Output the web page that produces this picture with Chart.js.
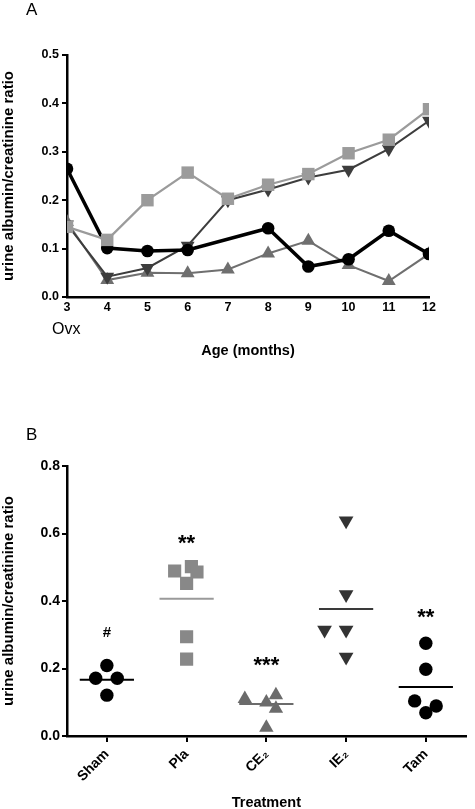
<!DOCTYPE html>
<html>
<head>
<meta charset="utf-8">
<script src="https://cdn.jsdelivr.net/npm/chart.js@4.4.0/dist/chart.umd.min.js"></script>
<style>
  html, body { margin: 0; padding: 0; background: #fff; overflow: hidden; }
  body { width: 475px; height: 809px; position: relative; font-family: "Liberation Sans", Arial, sans-serif; }
  canvas { position: absolute; left: 0; }
  #chartA { top: 0; }
  #chartB { top: 400px; }
  .label { position: absolute; line-height: 1; color: #000; }
</style>
</head>
<body>
<canvas id="chartA" width="475" height="400"></canvas>
<canvas id="chartB" width="475" height="420"></canvas>
<div class="label" style="left:26px;top:1px;font-size:17px">A</div>
<div class="label" style="left:26px;top:426px;font-size:17px">B</div>
<div class="label" style="left:52px;top:321px;font-size:16px">Ovx</div>
<script>
// panel A: ratio over age
const ages = [3, 4, 5, 6, 7, 8, 9, 10, 11, 12];
const shamByAge = [0.265, 0.101, 0.095, 0.097, null, 0.142, 0.063, 0.078, 0.137, 0.089];
const plaByAge = [0.145, 0.118, 0.2, 0.257, 0.203, 0.232, 0.254, 0.297, 0.325, 0.388];
const ie2ByAge = [0.15, 0.042, 0.06, 0.106, 0.2, 0.222, 0.247, 0.263, 0.306, 0.364];
const ce2ByAge = [0.155, 0.035, 0.05, 0.049, 0.057, 0.09, 0.116, 0.066, 0.033, 0.089];

// panel B: ratio per treatment
const treatments = ["Sham", "Pla", "CE\u2082", "IE\u2082", "Tam"];
const shamValues = [0.209, 0.171, 0.171, 0.121];
const shamJitter = [0, -0.14, 0.13, 0];
const plaValues = [0.489, 0.502, 0.486, 0.452, 0.294, 0.228];
const plaJitter = [-0.15, 0.06, 0.13, 0, 0, 0];
const ce2Values = [0.11, 0.121, 0.1, 0.081, 0.025];
const ce2Jitter = [-0.27, 0.12, 0, 0.12, 0];
const ie2Values = [0.638, 0.419, 0.314, 0.314, 0.234];
const ie2Jitter = [0, 0, -0.27, 0, 0];
const tamValues = [0.275, 0.198, 0.104, 0.089, 0.069];
const tamJitter = [0, 0, -0.14, 0.13, 0];
const groupMeans = [0.167, 0.407, 0.095, 0.376, 0.145];
const significance = ["#", "**", "***", "", "**"];
const significanceY = [0.294, 0.552, 0.19, null, 0.332];

Chart.defaults.font.family = '"Liberation Sans", Arial, sans-serif';
Chart.defaults.color = "#000";

const yTitle = "urine albumin/creatinine ratio";

function series(values) {
    return ages.map((a, i) => ({ x: a, y: values[i] }));
}

function lineSet(values, color, width, style, radius, rotation) {
    return {
        data: series(values),
        borderColor: color,
        backgroundColor: color,
        borderWidth: width,
        pointStyle: style,
        pointRadius: radius,
        pointRotation: rotation || 0,
        pointBorderWidth: 0,
        pointBackgroundColor: color,
        spanGaps: true,
        tension: 0
    };
}

new Chart(document.getElementById("chartA"), {
    type: "line",
    data: {
        datasets: [
            lineSet(plaByAge, "#9b9b9b", 2.2, "rect", 8.8),
            lineSet(shamByAge, "#000", 3.5, "circle", 6.3),
            lineSet(ie2ByAge, "#3d3d3d", 2, "triangle", 8, 180),
            lineSet(ce2ByAge, "#6f6f6f", 2, "triangle", 8)
        ]
    },
    options: {
        responsive: false,
        animation: false,
        layout: { padding: { top: 55, right: 46, bottom: 40, left: 0 } },
        plugins: { legend: { display: false }, tooltip: { enabled: false } },
        scales: {
            x: {
                type: "linear",
                min: 3,
                max: 12,
                ticks: { stepSize: 1, padding: 3, font: { size: 12.5, weight: "bold" } },
                grid: { display: false, drawTicks: false },
                border: { color: "#000", width: 2.5 },
                title: { display: true, text: "Age (months)", padding: 0, font: { size: 14.5, weight: "bold" } },
                afterFit: scale => { scale.height = 63; }
            },
            y: {
                min: 0,
                max: 0.5,
                ticks: { stepSize: 0.1, padding: 3, font: { size: 12.5, weight: "bold" }, callback: v => v.toFixed(1) },
                grid: { drawOnChartArea: false, drawTicks: true, tickLength: 5, color: "#000", lineWidth: 2 },
                border: { color: "#000", width: 2.5 },
                title: { display: true, text: yTitle, padding: 0, font: { size: 15, weight: "bold" } },
                afterFit: scale => { scale.width = 67; }
            }
        }
    }
});

function groupPoints(index, values, jitter) {
    return values.map((v, i) => ({ x: index + 1 + jitter[i], y: v }));
}

function dotSet(index, values, jitter, color, style, radius, rotation) {
    return {
        data: groupPoints(index, values, jitter),
        backgroundColor: color,
        borderWidth: 0,
        pointStyle: style,
        pointRadius: radius,
        pointRotation: rotation || 0
    };
}

const meanColors = ["#000", "#9a9a9a", "#6b6b6b", "#3a3a3a", "#000"];
const meanSets = groupMeans.map((m, i) => ({
    data: [{ x: i + 1 - 0.34, y: m }, { x: i + 1 + 0.34, y: m }],
    showLine: true,
    borderColor: meanColors[i],
    borderWidth: 2,
    pointRadius: 0
}));

const significancePlugin = {
    id: "significance",
    afterDatasetsDraw(chart) {
        const { ctx, scales: { x, y } } = chart;
        ctx.save();
        ctx.fillStyle = "#000";
        ctx.textAlign = "center";
        ctx.textBaseline = "alphabetic";
        significance.forEach((txt, i) => {
            if (!txt) return;
            const size = txt === "#" ? 15 : 22;
            ctx.font = "bold " + size + 'px "Liberation Sans", Arial, sans-serif';
            ctx.fillText(txt, x.getPixelForValue(i + 1), y.getPixelForValue(significanceY[i]));
        });
        ctx.restore();
    }
};

new Chart(document.getElementById("chartB"), {
    type: "scatter",
    data: {
        datasets: [
            dotSet(0, shamValues, shamJitter, "#000", "circle", 6.7),
            dotSet(1, plaValues, plaJitter, "#888", "rect", 9.3),
            dotSet(2, ce2Values, ce2Jitter, "#6b6b6b", "triangle", 8.3),
            dotSet(3, ie2Values, ie2Jitter, "#333", "triangle", 8.5, 180),
            dotSet(4, tamValues, tamJitter, "#000", "circle", 6.7),
            ...meanSets
        ]
    },
    options: {
        responsive: false,
        animation: false,
        layout: { padding: { top: 66, right: 2, bottom: 8.3, left: 0 } },
        plugins: { legend: { display: false }, tooltip: { enabled: false } },
        scales: {
            x: {
                type: "linear",
                min: 0.5,
                max: 5.5,
                afterBuildTicks: scale => { scale.ticks = treatments.map((t, i) => ({ value: i + 1 })); },
                ticks: {
                    autoSkip: false,
                    minRotation: 45,
                    maxRotation: 45,
                    padding: 4,
                    font: { size: 14, weight: "bold" },
                    callback: v => treatments[v - 1]
                },
                grid: { drawOnChartArea: false, drawTicks: true, tickLength: 6, color: "#000", lineWidth: 2 },
                border: { color: "#000", width: 2.5 },
                title: { display: true, text: "Treatment", padding: 0, font: { size: 14.5, weight: "bold" } },
                afterFit: scale => { scale.height = 75.7; }
            },
            y: {
                min: 0,
                max: 0.8,
                ticks: { stepSize: 0.2, padding: 2, font: { size: 14, weight: "bold" }, callback: v => v.toFixed(1) },
                grid: { drawOnChartArea: false, drawTicks: true, tickLength: 5, color: "#000", lineWidth: 2 },
                border: { color: "#000", width: 2.5 },
                title: { display: true, text: yTitle, padding: 0, font: { size: 15, weight: "bold" } },
                afterFit: scale => { scale.width = 67; }
            }
        }
    },
    plugins: [significancePlugin]
});
</script>
</body>
</html>
